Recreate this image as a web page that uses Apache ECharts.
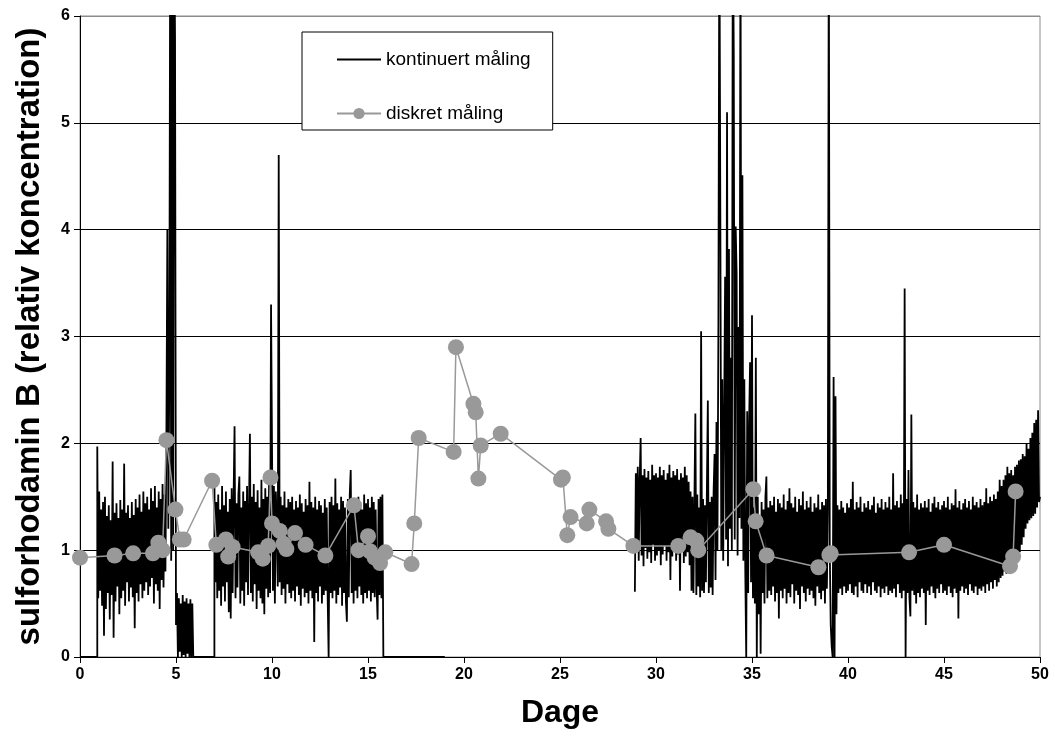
<!DOCTYPE html>
<html>
<head>
<meta charset="utf-8">
<script src="https://cdn.jsdelivr.net/npm/echarts@6/dist/echarts.min.js"></script>
<style>
html,body{margin:0;padding:0;background:#fff;}
#chart{width:1055px;height:744px;}
</style>
</head>
<body>
<div id="chart"></div>
<script>
// ---- data ----
const xTicks = [0, 5, 10, 15, 20, 25, 30, 35, 40, 45, 50];
const yTicks = [0, 1, 2, 3, 4, 5, 6];

// continuous measurement: sampled every 0.05 day
const dayStep = 0.05;
const contZeroRuns = [[0, 0.9], [5.9, 7.0], [15.8, 19.0]];

const contSeg1Start = 0.9;
const contSeg1 = [
  1.97, 0.55, 1.55, 0.62, 1.38, 0.48, 1.45, 0.2, 1.5, 0.45,
  1.32, 0.6, 1.42, 0.35, 1.28, 0.58, 1.83, 0.18, 1.35, 0.52,
  1.44, 0.66, 1.3, 0.4, 1.47, 0.55, 1.38, 0.62, 1.81, 0.48,
  1.35, 0.7, 1.42, 0.52, 1.3, 0.65, 1.45, 0.56, 1.33, 0.27,
  1.48, 0.6, 1.4, 0.52, 1.52, 0.68, 1.36, 0.55, 1.55, 0.62,
  1.44, 0.7, 1.5, 0.58, 1.38, 0.66, 1.58, 0.74, 1.46, 0.5,
  1.6, 0.68, 1.4, 0.62, 1.55, 0.45, 1.48, 0.72, 1.62, 0.65,
  1.52, 0.8, 2.1, 4.0, 1.2, 2.6, 7, 0.9, 8, 1.0,
  7, 5.8, 0.3, 0.6, 0, 0.55, 0.05, 0.5, 0, 0.58,
  0.02, 0.52, 0, 0.55, 0.03, 0.5, 0, 0.54, 0, 0.5
];

const contSeg2Start = 7.0;
const contSeg2 = [
  1.65, 0.7, 1.45, 0.55, 1.52, 0.62, 1.38, 0.48, 1.6, 0.66, 1.42, 0.52, 1.55, 0.7, 1.36, 0.42, 1.48, 0.36, 1.58, 0.6,
  1.5, 2.16, 0.55, 1.44, 0.65, 1.52, 1.69, 0.5, 1.4, 0.62, 1.55, 0.48, 1.46, 0.7, 1.6, 0.58, 1.38, 2.09, 0.6, 1.5,
  0.52, 1.62, 0.68, 1.45, 0.45, 1.56, 0.62, 1.4, 0.55, 1.66, 0.5, 1.48, 0.4, 1.58, 0.64, 1.5, 0.56, 1.7, 0.6, 3.3,
  2.0, 0.62, 1.6, 0.5, 1.55, 1.2, 0.66, 4.7, 0.7, 1.5, 0.58, 1.42, 0.64, 1.55, 0.5, 1.4, 0.68, 1.48, 0.6, 1.45,
  0.55, 1.5, 0.62, 1.38, 0.52, 1.46, 0.66, 1.4, 0.58, 1.52, 0.48, 1.44, 0.64, 1.36, 0.56, 1.48, 0.6, 1.42, 0.5, 1.64,
  0.62, 1.45, 0.55, 1.4, 0.14, 1.5, 0.6, 1.38, 0.52, 1.46, 0.66, 1.42, 0.5, 1.35, 0.58, 1.48, 0.62, 1.4, 0.55, 0,
  1.45, 0.6, 1.5, 0.55, 1.42, 0.62, 1.67, 0.5, 1.44, 0.58, 1.38, 0.65, 1.5, 0.48, 1.46, 0.6, 1.4, 0.52, 0.33, 1.48,
  0.56, 1.52, 1.75, 0.6, 1.42, 0.5, 1.48, 0.62, 1.4, 0.55, 1.5, 0.66, 1.45, 0.58, 1.38, 0.5, 1.52, 0.6, 1.44, 0.55,
  1.48, 0.62, 1.4, 0.52, 1.5, 0.6, 1.45, 0.56, 1.38, 0.64, 0.35, 1.48, 0.58, 1.5, 0.55, 1.52
];

const contSeg3Start = 28.9;
const contSeg3 = [
  0.61, 1.72,
  1.0, 1.78, 0.9, 1.65, 2.05, 0.95, 1.7, 0.85, 1.76, 1.02, 1.68, 0.92, 1.74, 0.98, 1.66, 0.88, 1.8, 1.05, 1.7, 0.9,
  1.72, 0.95, 1.68, 1.0, 1.78, 0.86, 1.7, 0.96, 1.75, 1.04, 1.66, 0.9, 1.72, 0.98, 1.8, 0.72, 1.68, 0.94, 1.74, 1.0,
  1.7, 0.9, 1.76, 0.96, 1.66, 0.62, 1.72, 1.0, 1.68, 0.88, 1.78, 0.94, 1.7, 0.98, 1.64, 0.86, 1.55, 0.62, 1.5, 0.6,
  1.45, 2.28, 0.58, 1.52, 0.66, 1.4, 0.56, 3.05, 0.62, 1.48, 0.6, 1.42, 0.7, 1.56, 2.4, 0.6, 1.45, 0.65, 1.5, 0.58,
  1.55, 1.9, 0.72, 2.2, 1.0, 3.13, 7.0, 4.19, 1.0, 2.6, 0.9, 2.3, 3.56, 1.1, 5.1, 0.85, 3.82, 1.2, 2.8, 1.0,
  7.0, 5.65, 1.1, 4.03, 3.59, 0.95, 3.09, 1.3, 7.0, 1.2, 4.51, 0.9, 2.6, 0.8, 0, 2.3, 0.6, 2.2, 2.76, 0.7,
  3.2, 0.55, 1.4, 0.5, 2.8, 0, 1.5, 0.4, 1.3, 0.03, 1.45, 0.6, 1.38, 0.5, 1.5, 1.69, 0.55, 1.4, 0.62, 1.46,
  0.58, 1.42, 0.66, 1.5, 0.52, 1.36, 0.6, 1.48, 0.36, 1.44, 0.62, 1.4, 0.55, 1.52, 0.64, 1.38, 0.5, 1.46, 0.6, 1.58,
  0.56, 1.44, 0.68, 1.4, 0.5, 1.5, 0.62, 1.36, 0.58, 1.48, 0.45, 1.42, 0.66, 1.55, 0.6, 1.38, 0.52, 1.46, 0.64, 1.4,
  0.58, 1.5, 0.62, 1.36, 0.55, 1.44, 0.48, 1.4, 0.66, 1.52, 0.6, 1.38, 0.54, 1.45, 0.62, 1.42, 0.5, 1.48, 0.64, 1.38,
  7.0, 1.0, 0.3, 0.1, 0, 2.62, 0, 2.44, 0.4, 1.42, 0.6, 1.38, 0.64, 1.46, 0.58, 1.4, 0.66, 1.35, 0.6, 1.44,
  0.62, 1.4, 0.68, 1.48, 0.6, 1.64, 0.58, 1.38, 0.66, 1.45, 0.56, 1.4, 0.7, 1.5, 0.62, 1.36, 0.6, 1.44, 0.68, 1.4,
  0.6, 1.46, 0.66, 1.38, 0.58, 1.42, 0.7, 1.5, 0.62, 1.35, 0.6, 1.44, 0.66, 1.4, 0.56, 1.48, 0.64, 1.38, 0.6, 1.45,
  0.66, 1.4, 0.58, 1.5, 0.62, 1.38, 0.6, 1.72, 0.64, 1.42, 0.56, 1.46, 0.68, 1.4, 0.6, 1.52, 0.55, 1.44, 0.62, 3.45,
  0, 1.48, 0.6, 1.75, 0.55, 0.38, 2.27, 0.62, 1.45, 0.58, 1.4, 0.5, 1.52, 0.6, 1.38, 0.56, 1.44, 0.64, 1.4, 0.6,
  1.46, 0.3, 1.4, 0.62, 1.48, 0.58, 1.36, 0.66, 1.44, 0.6, 1.5, 0.55, 1.4, 0.64, 1.45, 0.6, 1.38, 0.68, 1.42, 0.6,
  1.46, 0.62, 1.4, 0.58, 1.5, 0.66, 1.38, 0.6, 1.44, 0.56, 1.42, 0.64, 1.57, 0.6, 1.4, 0.36, 1.46, 0.62, 1.38, 0.66,
  1.44, 0.6, 1.48, 0.64, 1.4, 0.58, 1.46, 0.68, 1.38, 0.62, 1.5, 0.6, 1.42, 0.66, 1.45, 0.58, 1.4, 0.64, 1.48, 0.62,
  1.42, 0.66, 1.45, 0.6, 1.58, 0.68, 1.44, 0.62, 1.5, 0.7, 1.46, 0.64, 1.52, 0.72, 1.48, 0.66, 1.55, 0.7, 1.66, 0.74,
  1.6, 0.76, 1.66, 0.8, 1.7, 0.78, 1.78, 0.84, 1.72, 0.82, 1.75, 0.88, 1.7, 0.9, 1.78, 0.92, 1.8, 0.95, 1.84, 0.98,
  1.85, 1.05, 1.9, 1.12, 1.88, 1.2, 2.0, 1.25, 1.95, 1.28, 2.05, 1.3, 2.1, 1.32, 2.19, 1.34, 2.22, 1.4, 2.31, 1.45,
  1.5
];

// discrete measurement
const discreteDays = [
  0.0, 1.8, 2.77, 3.8, 4.08, 4.3, 4.5, 4.97, 5.2, 5.4,
  6.88, 7.1, 7.6, 7.72, 7.95, 9.28, 9.52, 9.8, 9.92, 10.0,
  10.4, 10.6, 10.75, 11.2, 11.75, 12.78, 14.27, 14.5, 15.0, 15.1,
  15.35, 15.63, 15.9, 17.27, 17.41, 17.64, 19.46, 19.58, 20.49, 20.61,
  20.75, 20.87, 21.91, 25.05, 25.15, 25.38, 25.55, 26.39, 26.53, 27.4,
  27.52, 28.82, 31.16, 31.8, 32.1, 32.2, 35.07, 35.19, 35.76, 38.46,
  39.03, 39.1, 43.18, 45.0, 48.44, 48.6, 48.73
];
const discreteValues = [
  0.93, 0.95, 0.97, 0.97, 1.07, 1.0, 2.03, 1.38, 1.1, 1.1,
  1.65, 1.05, 1.1, 0.94, 1.03, 0.98, 0.92, 1.04, 1.68, 1.25,
  1.18, 1.06, 1.01, 1.16, 1.05, 0.95, 1.42, 1.0, 1.13, 0.99,
  0.93, 0.88, 0.98, 0.87, 1.25, 2.05, 1.92, 2.9, 2.37, 2.29,
  1.67, 1.98, 2.09, 1.66, 1.68, 1.14, 1.31, 1.25, 1.38, 1.27,
  1.2, 1.04, 1.04, 1.12, 1.09, 1.0, 1.57, 1.27, 0.95, 0.84,
  0.955, 0.97, 0.98, 1.05, 0.85, 0.94, 1.55
];

// ---- build series data ----
function segPoints(start, vals) {
  return vals.map((v, i) => [Math.round((start + i * dayStep) * 100) / 100, v]);
}
function runPoints(run) { return [[run[0], 0], [run[1], 0]]; }

const contData = [].concat(
  runPoints(contZeroRuns[0]),
  segPoints(contSeg1Start, contSeg1),
  runPoints(contZeroRuns[1]),
  segPoints(contSeg2Start, contSeg2),
  runPoints(contZeroRuns[2]),
  [[24, null]],
  segPoints(contSeg3Start, contSeg3)
);
const discData = discreteDays.map((d, i) => [d, discreteValues[i]]);

const FONT = 'Liberation Sans, Arial, sans-serif';
const chart = echarts.init(document.getElementById('chart'), null, {renderer: 'canvas'});
chart.setOption({
  animation: false,
  backgroundColor: '#fff',
  grid: {left: 80, right: 15, top: 16, bottom: 87, show: true, borderColor: '#8c8c8c', borderWidth: 1, backgroundColor: 'transparent'},
  legend: {
    left: 302, top: 32, orient: 'vertical',
    padding: [18, 22, 7, 34], itemWidth: 44, itemHeight: 14, itemGap: 35,
    backgroundColor: '#fff', borderColor: '#000', borderWidth: 1,
    textStyle: {fontFamily: FONT, fontSize: 19, color: '#000'},
    data: [
      {name: 'kontinuert måling', itemStyle: {opacity: 0}},
      {name: 'diskret måling'}
    ]
  },
  xAxis: {
    type: 'value', min: xTicks[0], max: xTicks[xTicks.length - 1], interval: 5,
    name: 'Dage', nameLocation: 'middle', nameGap: 40,
    nameTextStyle: {fontFamily: FONT, fontSize: 32, fontWeight: 'bold', color: '#000'},
    axisLine: {show: true, onZero: false, lineStyle: {color: '#000', width: 1}},
    axisTick: {show: true, length: 6, lineStyle: {color: '#000'}},
    axisLabel: {fontFamily: FONT, fontSize: 16, fontWeight: 'bold', color: '#000', margin: 10},
    splitLine: {show: false}
  },
  yAxis: {
    type: 'value', min: yTicks[0], max: yTicks[yTicks.length - 1], interval: 1,
    name: 'sulforhodamin B (relativ koncentration)', nameLocation: 'middle', nameGap: 34,
    nameTextStyle: {fontFamily: FONT, fontSize: 33, fontWeight: 'bold', color: '#000'},
    axisLine: {show: true, lineStyle: {color: '#000', width: 1}},
    axisTick: {show: true, length: 6, lineStyle: {color: '#000'}},
    axisLabel: {fontFamily: FONT, fontSize: 16, fontWeight: 'bold', color: '#000', margin: 10},
    splitLine: {show: true, lineStyle: {color: ['#000', '#000', '#000', '#000', '#000', '#000', '#8c8c8c'], width: 1}}
  },
  series: [
    {
      name: 'kontinuert måling', type: 'line', data: contData,
      showSymbol: false, symbol: 'none', connectNulls: false,
      lineStyle: {color: '#000', width: 1.8}, itemStyle: {color: '#000'},
      clip: true, z: 2
    },
    {
      name: 'diskret måling', type: 'line', data: discData,
      symbol: 'circle', symbolSize: 16, showSymbol: true,
      lineStyle: {color: '#999999', width: 1.5}, itemStyle: {color: '#999999'},
      clip: false, z: 3
    }
  ]
});
</script>
</body>
</html>
